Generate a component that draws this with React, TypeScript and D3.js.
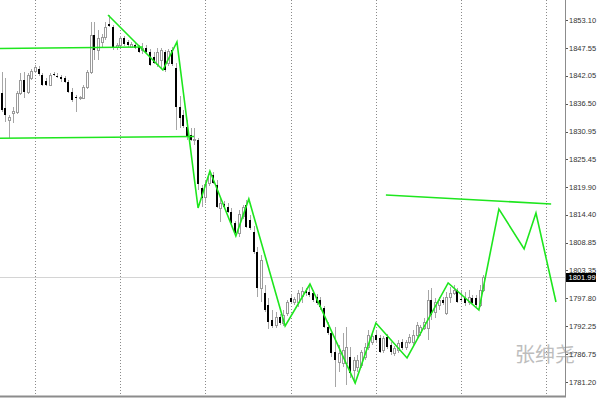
import { scaleLinear, line } from "d3";

// H1 bars, oldest first
const opens = [
  1838.6, 1835.62, 1833.24, 1834.63, 1834.83, 1838.6, 1841.18, 1838.8, 1841.58, 1842.97,
  1843.37, 1842.18, 1840.98, 1840.19, 1842.37, 1841.98, 1841.78, 1841.58, 1840.78, 1838.8,
  1837.81, 1837.61, 1837.61, 1839.79, 1842.77, 1850.12, 1847.14, 1848.73, 1849.72, 1852.3,
  1851.71, 1847.74, 1848.13, 1849.52, 1848.73, 1847.74, 1848.13, 1847.74, 1847.14, 1847.54,
  1846.74, 1845.75, 1844.36, 1845.15, 1846.74, 1844.56, 1847.14, 1843.57, 1835.82, 1834.23,
  1831.85, 1830.26, 1829.27, 1829.27, 1819.73, 1817.95, 1820.73, 1822.32, 1820.33, 1815.76,
  1816.56, 1815.96, 1814.97, 1812.78, 1810.8, 1814.17, 1816.36, 1813.38, 1810.99, 1807.02,
  1799.87, 1798.88, 1796.5, 1793.52, 1792.53, 1794.11, 1792.92, 1794.91, 1797.89, 1797.09,
  1797.09, 1798.28, 1799.28, 1799.08, 1798.88, 1798.09, 1797.49, 1795.9, 1792.13, 1790.94,
  1787.16, 1785.18, 1784.98, 1784.98, 1786.17, 1783.59, 1784.18, 1784.58, 1786.17, 1788.16,
  1789.15, 1790.54, 1789.94, 1787.56, 1790.14, 1788.55, 1786.96, 1787.56, 1789.15, 1788.16,
  1789.15, 1789.15, 1790.54, 1791.13, 1791.93, 1791.93, 1797.49, 1795.11, 1796.5, 1797.49,
  1794.91, 1798.09, 1798.88, 1799.48, 1797.69, 1797.89, 1797.09, 1797.89, 1797.89, 1796.5,
  1799.48,
];

const highs = [
  1842.77, 1841.58, 1834.23, 1835.82, 1839.0, 1842.57, 1842.77, 1842.57, 1843.37, 1844.16,
  1843.96, 1842.57, 1841.58, 1842.57, 1842.77, 1842.57, 1842.18, 1841.98, 1841.18, 1839.59,
  1838.2, 1838.0, 1840.19, 1843.17, 1852.7, 1852.7, 1851.11, 1850.32, 1852.7, 1854.09,
  1852.11, 1848.53, 1849.92, 1849.92, 1849.13, 1848.73, 1848.53, 1848.13, 1848.53, 1848.13,
  1847.34, 1846.74, 1847.54, 1847.54, 1847.14, 1847.34, 1847.74, 1844.56, 1838.0, 1835.22,
  1833.24, 1831.65, 1831.65, 1829.66, 1820.33, 1821.32, 1823.11, 1822.91, 1821.32, 1817.95,
  1817.15, 1816.75, 1815.76, 1813.18, 1815.36, 1816.36, 1817.35, 1814.37, 1812.19, 1808.02,
  1806.43, 1800.47, 1797.89, 1795.5, 1795.11, 1794.71, 1795.5, 1797.49, 1798.48, 1798.09,
  1799.48, 1800.07, 1799.87, 1800.47, 1799.48, 1798.68, 1798.09, 1796.3, 1793.12, 1791.53,
  1792.13, 1788.55, 1790.94, 1792.13, 1788.16, 1786.17, 1786.57, 1787.56, 1788.95, 1791.53,
  1790.94, 1791.53, 1790.54, 1790.34, 1790.74, 1789.15, 1788.36, 1789.55, 1789.74, 1789.55,
  1790.74, 1791.53, 1793.12, 1792.53, 1793.92, 1799.48, 1799.87, 1797.89, 1798.09, 1798.09,
  1799.08, 1800.07, 1800.47, 1799.87, 1799.48, 1799.08, 1799.48, 1798.48, 1798.48, 1800.47,
  1802.46,
];

const lows = [
  1834.83, 1832.84, 1829.66, 1832.64, 1834.43, 1838.2, 1837.61, 1838.4, 1841.18, 1842.57,
  1841.98, 1839.99, 1839.99, 1839.99, 1841.98, 1841.58, 1840.78, 1840.59, 1838.6, 1836.81,
  1834.83, 1837.21, 1837.41, 1839.39, 1842.37, 1845.15, 1845.15, 1847.54, 1849.13, 1851.71,
  1847.14, 1847.14, 1847.74, 1847.93, 1847.74, 1847.54, 1847.34, 1846.54, 1846.35, 1846.54,
  1843.96, 1844.36, 1843.76, 1843.57, 1842.77, 1843.96, 1843.96, 1831.25, 1831.65, 1831.65,
  1829.27, 1829.07, 1828.27, 1819.34, 1815.96, 1816.75, 1820.13, 1820.53, 1815.76, 1812.98,
  1815.56, 1814.77, 1812.58, 1810.4, 1810.0, 1813.58, 1811.79, 1811.39, 1806.63, 1798.09,
  1797.09, 1795.11, 1791.73, 1791.93, 1791.93, 1792.53, 1792.33, 1794.31, 1796.89, 1796.5,
  1796.1, 1796.89, 1798.28, 1798.09, 1797.09, 1796.5, 1795.5, 1791.93, 1790.54, 1786.17,
  1780.21, 1783.19, 1784.18, 1780.61, 1782.0, 1781.01, 1783.19, 1783.99, 1785.57, 1787.56,
  1788.55, 1789.15, 1786.96, 1786.96, 1787.76, 1786.57, 1786.37, 1786.96, 1787.56, 1787.56,
  1788.75, 1788.55, 1789.94, 1790.34, 1791.53, 1789.55, 1793.52, 1793.92, 1795.5, 1796.5,
  1794.51, 1796.89, 1798.48, 1796.89, 1797.09, 1796.3, 1796.5, 1796.5, 1796.1, 1796.1,
  1799.08,
];

const closes = [
  1835.22, 1834.23, 1833.83, 1835.03, 1838.6, 1841.18, 1838.8, 1842.18, 1842.97, 1843.76,
  1842.37, 1840.19, 1840.19, 1842.18, 1842.18, 1841.78, 1841.38, 1840.78, 1838.8, 1837.21,
  1837.61, 1837.81, 1839.79, 1842.77, 1850.12, 1847.14, 1849.52, 1849.72, 1851.71, 1851.91,
  1847.74, 1848.13, 1849.52, 1848.33, 1848.13, 1848.33, 1847.54, 1846.74, 1847.54, 1846.74,
  1844.16, 1844.56, 1846.74, 1847.14, 1843.17, 1846.94, 1844.36, 1835.82, 1833.64, 1832.05,
  1829.86, 1829.27, 1829.46, 1820.53, 1817.75, 1820.53, 1822.51, 1820.73, 1815.96, 1816.75,
  1815.96, 1814.97, 1812.78, 1810.8, 1814.57, 1815.96, 1811.99, 1811.79, 1807.02, 1799.87,
  1805.43, 1795.5, 1793.12, 1792.33, 1794.11, 1792.92, 1794.51, 1797.09, 1797.09, 1797.69,
  1798.88, 1799.28, 1798.88, 1798.48, 1797.49, 1796.89, 1796.1, 1792.13, 1790.94, 1786.96,
  1785.57, 1786.96, 1787.56, 1788.16, 1782.99, 1785.57, 1785.57, 1787.16, 1788.16, 1790.54,
  1790.34, 1789.55, 1787.16, 1789.94, 1788.16, 1787.16, 1787.96, 1788.95, 1787.96, 1789.15,
  1790.14, 1790.54, 1792.53, 1792.13, 1793.12, 1797.49, 1794.51, 1797.09, 1797.49, 1796.89,
  1798.09, 1798.88, 1799.48, 1797.09, 1797.49, 1796.89, 1798.09, 1796.89, 1796.5, 1799.48,
  1801.99,
];

const priceTicks = [
  1853.1, 1847.55, 1842.05, 1836.5, 1830.95, 1825.45, 1819.9, 1814.4, 1808.85, 1803.35,
  1797.8, 1792.25, 1786.75, 1781.2,
];

// day separators, in bar index
const dayBars = [9, 32, 55, 78, 101, 124, 147];

// zigzag / projection drawn on the chart
const zigzagBars = [
  28.7, 43.5, 47.3, 53.0, 56.2, 63.2, 66.7, 76.5, 83.2, 95.4, 101.0, 109.4, 120.5, 128.8,
  134.2, 141.0, 144.2, 149.6,
];
const zigzagPrices = [
  1854.09, 1843.17, 1848.73, 1815.76, 1823.11, 1810.2, 1817.55, 1792.33, 1800.67, 1781.0,
  1792.92, 1785.97, 1800.87, 1795.5, 1815.56, 1807.62, 1814.77, 1797.09,
];

// support / resistance lines: [bar1, price1, bar2, price2]
const levelLines = [
  [-0.5, 1847.44, 38.1, 1847.73],
  [-0.5, 1829.6, 51.9, 1829.96],
  [103.7, 1818.34, 148.3, 1816.56],
];

const lastPrice = 1801.99;
const watermark = "张绅尧";

const W = 600;
const H = 400;
const plotRight = 565;
const plotBottom = 396;
const green = "#1ee61e";

export default function App() {
  const x = scaleLinear().domain([0, 130]).range([1.7, 483.35]);
  const y = scaleLinear().domain([1853.1, 1781.2]).range([20, 382]);

  const zz = line<number>()
    .x((_, i) => x(zigzagBars[i]))
    .y((d) => y(d));

  return (
    <div style={{ position: "absolute", left: 0, top: 0 }}>
      <svg width={W} height={H} style={{ display: "block", background: "#fff" }}>
        <defs>
          <clipPath id="plot">
            <rect x={0} y={0} width={plotRight} height={plotBottom} />
          </clipPath>
        </defs>

        {dayBars.map((b) => (
          <line
            key={b}
            x1={Math.round(x(b)) + 0.5}
            x2={Math.round(x(b)) + 0.5}
            y1={0}
            y2={plotBottom}
            stroke="#8a8a8a"
            strokeDasharray="1 2"
          />
        ))}

        <line
          x1={0}
          x2={plotRight}
          y1={Math.round(y(lastPrice)) + 0.5}
          y2={Math.round(y(lastPrice)) + 0.5}
          stroke="#d4d4d4"
        />

        <g clipPath="url(#plot)">
          {opens.map((o, i) => {
            const c = closes[i];
            const r = Math.round(x(i));
            const up = c >= o;
            const top = Math.round(y(Math.max(o, c)));
            const bot = Math.round(y(Math.min(o, c)));
            return (
              <g key={i}>
                <line
                  x1={r + 0.5}
                  x2={r + 0.5}
                  y1={Math.round(y(highs[i]))}
                  y2={Math.round(y(lows[i]))}
                  stroke="#a6a6a6"
                />
                {up ? (
                  <rect
                    x={r - 0.5}
                    y={top + 0.5}
                    width={2}
                    height={Math.max(bot - top, 1)}
                    fill="#fff"
                    stroke="#9a9a9a"
                  />
                ) : (
                  <rect x={r - 1} y={top} width={2} height={Math.max(bot - top, 1)} fill="#000" />
                )}
              </g>
            );
          })}

          {levelLines.map((l, i) => (
            <line
              key={i}
              x1={x(l[0])}
              y1={y(l[1])}
              x2={x(l[2])}
              y2={y(l[3])}
              stroke={green}
              strokeWidth={1.6}
            />
          ))}

          <path d={zz(zigzagPrices) ?? ""} fill="none" stroke={green} strokeWidth={1.6} />
        </g>

        <text
          x={515}
          y={362}
          fontFamily="'Noto Sans CJK SC', sans-serif"
          fontSize={20}
          fill="#bdbdbd"
        >
          {watermark}
        </text>

        <line x1={plotRight + 0.5} x2={plotRight + 0.5} y1={0} y2={plotBottom + 1} stroke="#8c8c8c" />
        <line x1={0} x2={plotRight + 1} y1={plotBottom + 0.5} y2={plotBottom + 0.5} stroke="#8c8c8c" strokeWidth={2} />

        {priceTicks.map((t) => (
          <g key={t}>
            <line
              x1={plotRight + 1}
              x2={plotRight + 3}
              y1={Math.round(y(t)) + 0.5}
              y2={Math.round(y(t)) + 0.5}
              stroke="#555"
            />
            <text
              x={569}
              y={y(t)}
              dy="0.35em"
              fontFamily="'Liberation Sans', Arial, sans-serif"
              fontSize={7.5}
              fill="#333"
            >
              {t.toFixed(2)}
            </text>
          </g>
        ))}

        <rect x={566} y={Math.round(y(lastPrice)) - 4} width={30} height={9} fill="#000" />
        <text
          x={568.5}
          y={y(lastPrice)}
          dy="0.35em"
          fontFamily="'Liberation Sans', Arial, sans-serif"
          fontSize={7.5}
          fill="#fff"
        >
          {lastPrice.toFixed(2)}
        </text>
      </svg>
    </div>
  );
}
